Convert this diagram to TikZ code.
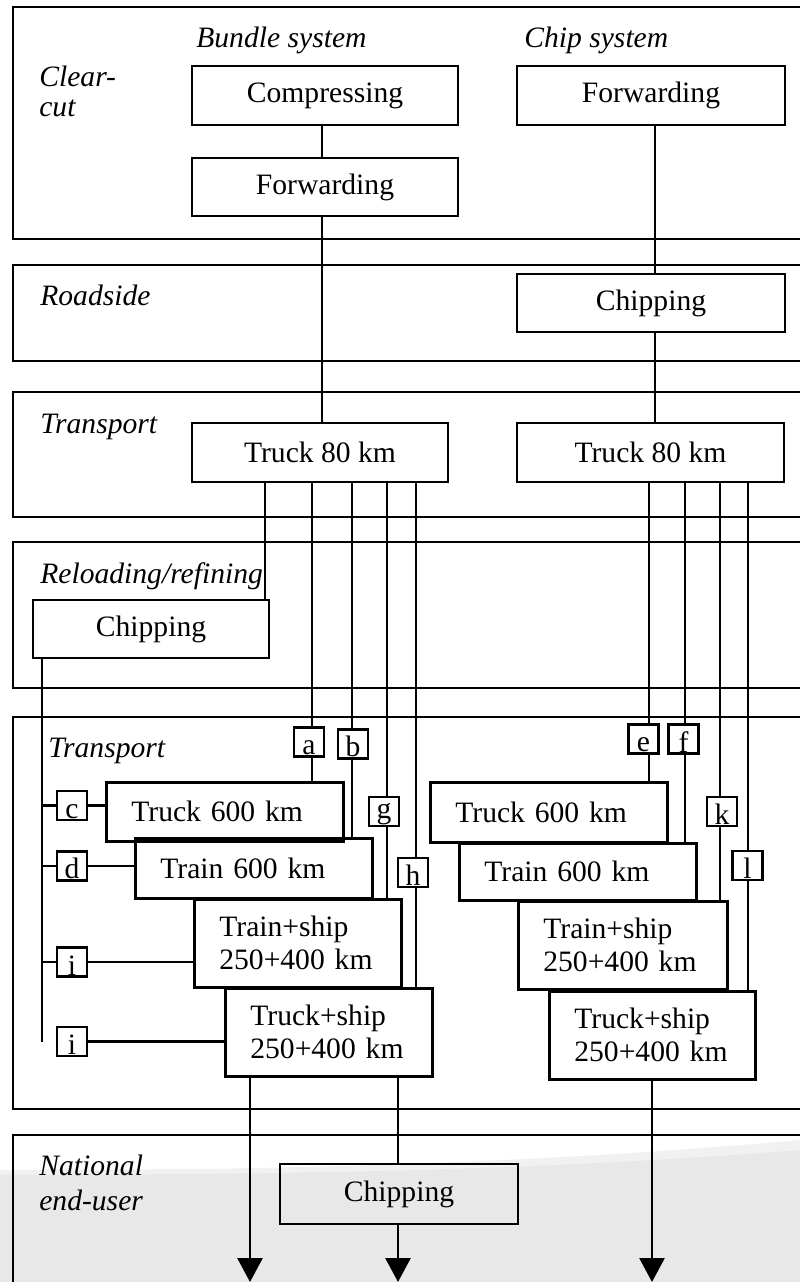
\documentclass[tikz,border=0pt]{standalone}
\usepackage{fontspec}
\setmainfont{Liberation Serif}
\usetikzlibrary{arrows.meta}
\definecolor{bggrey}{HTML}{E8E8E8}
\definecolor{bgband}{HTML}{F1F1F1}
\begin{document}
\begin{tikzpicture}[x=1pt,y=-1pt,line width=2.7pt,
  every node/.style={font=\fontsize{29.6}{33}\selectfont},
  box/.style={draw,inner sep=0pt,align=center},
  lbox/.style={draw,inner ysep=0pt,inner xsep=25pt,align=left,anchor=north west},
  lab/.style={anchor=base west,inner sep=0pt,font=\fontsize{29.6}{30}\selectfont\itshape},
  letterbox/.style={draw,inner sep=0pt,minimum width=30pt,minimum height=29pt},
  letter/.style={inner sep=0pt,anchor=south,yshift=1.5pt},
  flow/.style={-{Triangle[width=25pt,length=24pt]}}]
\useasboundingbox (0,0) rectangle (800,1282);
\clip (0,0) rectangle (800,1282);
% grey background at the bottom
\fill[bgband] (0,1170) -- (200,1169) .. controls (400,1166) and (600,1158) .. (800,1140) -- (800,1282) -- (0,1282) -- cycle;
\fill[bggrey] (0,1175) -- (200,1174) .. controls (400,1172) and (600,1166) .. (800,1150) -- (800,1282) -- (0,1282) -- cycle;
% sections
\draw (13,7) rectangle (830,239);
\draw (13,265) rectangle (830,361);
\draw (13,392) rectangle (830,517);
\draw (13,542) rectangle (830,688);
\draw (13,717) rectangle (830,1109);
\draw (13,1135) rectangle (830,1320);
% section labels
\node[lab] (lbund) at (195,47) {Bundle system};
\node[lab] (lchip) at (523,47) {Chip system};
\node[lab] (lclear) at (38,86) {Clear-};
\node[lab] (lcut) at (38,116) {cut};
\node[lab] (lroad) at (39,305) {Roadside};
\node[lab] (ltr1) at (39,433) {Transport};
\node[lab] (lrel) at (39,583) {Reloading/refining};
\node[lab] (ltr2) at (47,757) {Transport};
\node[lab] (lnat) at (38,1175) {National};
\node[lab] (lend) at (38,1210) {end-user};
% main boxes
\node[box,minimum width=266pt,minimum height=59pt] (compress) at (325,95.5) {Compressing};
\node[box,minimum width=266pt,minimum height=58pt] (fwdB) at (325,187) {Forwarding};
\node[box,minimum width=268pt,minimum height=59pt] (fwdC) at (651,95.5) {Forwarding};
\node[box,minimum width=268pt,minimum height=58pt] (chipR) at (651,303) {Chipping};
\node[box,minimum width=256pt,minimum height=59pt] (t80B) at (320,452.5) {Truck 80 km};
\node[box,minimum width=267pt,minimum height=59pt] (t80C) at (650.5,452.5) {Truck 80 km};
\node[box,minimum width=236pt,minimum height=58pt] (chipRL) at (151,629) {Chipping};
\node[box,minimum width=238pt,minimum height=60pt] (chipN) at (399,1194) {Chipping};
% transport boxes (left aligned text)
\node[lbox,text width=187pt,minimum height=59pt] (bT600) at (105,781) {Truck 600 km};
\node[lbox,text width=187pt,minimum height=60pt] (bTr600) at (134,837) {Train 600 km};
\node[lbox,text width=157pt,minimum height=88pt] (bTS) at (193,898) {Train+ship\\250+400 km};
\node[lbox,text width=157pt,minimum height=88pt] (bTkS) at (224,987) {Truck+ship\\250+400 km};
\node[lbox,text width=187pt,minimum height=60pt] (cT600) at (429,781) {Truck 600 km};
\node[lbox,text width=187pt,minimum height=57pt] (cTr600) at (458,842) {Train 600 km};
\node[lbox,text width=159pt,minimum height=88pt] (cTS) at (517,900) {Train+ship\\250+400 km};
\node[lbox,text width=156pt,minimum height=88pt] (cTkS) at (548,990) {Truck+ship\\250+400 km};
% letter boxes
\foreach \n/\x/\y in {a/309/742, b/353/744, g/384/811.5, h/413/872.5,
                      c/72/805.5, d/72/866, i1/72/962, i2/72/1041.5,
                      e/643.5/739, f/683.5/739, k/722/811.5, l/747.5/865.5}
  \node[letterbox] (\n) at (\x,\y) {};
\node[letter] at (a.south) {a};
\node[letter] at (b.south) {b};
\node[letter] at (g.south) {g};
\node[letter] at (h.south) {h};
\node[letter] at (c.south) {c};
\node[letter] at (d.south) {d};
\node[letter] at (i1.south) {i};
\node[letter] at (i2.south) {i};
\node[letter] at (e.south) {e};
\node[letter] at (f.south) {f};
\node[letter] at (k.south) {k};
\node[letter] at (l.south) {l};
% x positions of connectors
\coordinate (xB) at (322,0);
\coordinate (xC) at (655,0);
\coordinate (xr) at (265,0);
\coordinate (xa) at (312,0);
\coordinate (xb) at (352,0);
\coordinate (xg) at (387,0);
\coordinate (xh) at (416,0);
\coordinate (xe) at (649,0);
\coordinate (xf) at (685,0);
\coordinate (xk) at (720,0);
\coordinate (xl) at (748,0);
\coordinate (bus) at (42,0);
\coordinate (end1) at (250,1282);
\coordinate (end2) at (398,1282);
\coordinate (end3) at (652,1282);
% connectors top
\draw (compress.south -| xB) -- (fwdB.north -| xB);
\draw (fwdB.south -| xB) -- (t80B.north -| xB);
\draw (fwdC.south -| xC) -- (chipR.north -| xC);
\draw (chipR.south -| xC) -- (t80C.north -| xC);
\draw (t80B.south -| xr) -- (chipRL.north -| xr);
% bundle branches
\draw (t80B.south -| xa) -- (a.north -| xa);
\draw (a.south -| xa) -- (bT600.north -| xa);
\draw (t80B.south -| xb) -- (b.north -| xb);
\draw (b.south -| xb) -- (bTr600.north -| xb);
\draw (t80B.south -| xg) -- (g.north -| xg);
\draw (g.south -| xg) -- (bTS.north -| xg);
\draw (t80B.south -| xh) -- (h.north -| xh);
\draw (h.south -| xh) -- (bTkS.north -| xh);
% chip branches
\draw (t80C.south -| xe) -- (e.north -| xe);
\draw (e.south -| xe) -- (cT600.north -| xe);
\draw (t80C.south -| xf) -- (f.north -| xf);
\draw (f.south -| xf) -- (cTr600.north -| xf);
\draw (t80C.south -| xk) -- (k.north -| xk);
\draw (k.south -| xk) -- (cTS.north -| xk);
\draw (t80C.south -| xl) -- (l.north -| xl);
\draw (l.south -| xl) -- (cTkS.north -| xl);
% left bus from reloading chipping
\draw (chipRL.south -| bus) -- (bus |- i2);
\draw (bus |- c) -- (c.west);
\draw (bus |- d) -- (d.west);
\draw (bus |- i1) -- (i1.west);
\draw (c.east) -- (c.east -| bT600.west);
\draw (d.east) -- (d.east -| bTr600.west);
\draw (i1.east) -- (i1.east -| bTS.west);
\draw (i2.east) -- (i2.east -| bTkS.west);
% to end users
\draw[flow] (bTkS.south -| end1) -- (end1);
\draw (bTkS.south -| end2) -- (chipN.north -| end2);
\draw[flow] (chipN.south -| end2) -- (end2);
\draw[flow] (cTkS.south -| end3) -- (end3);
\end{tikzpicture}
\end{document}
